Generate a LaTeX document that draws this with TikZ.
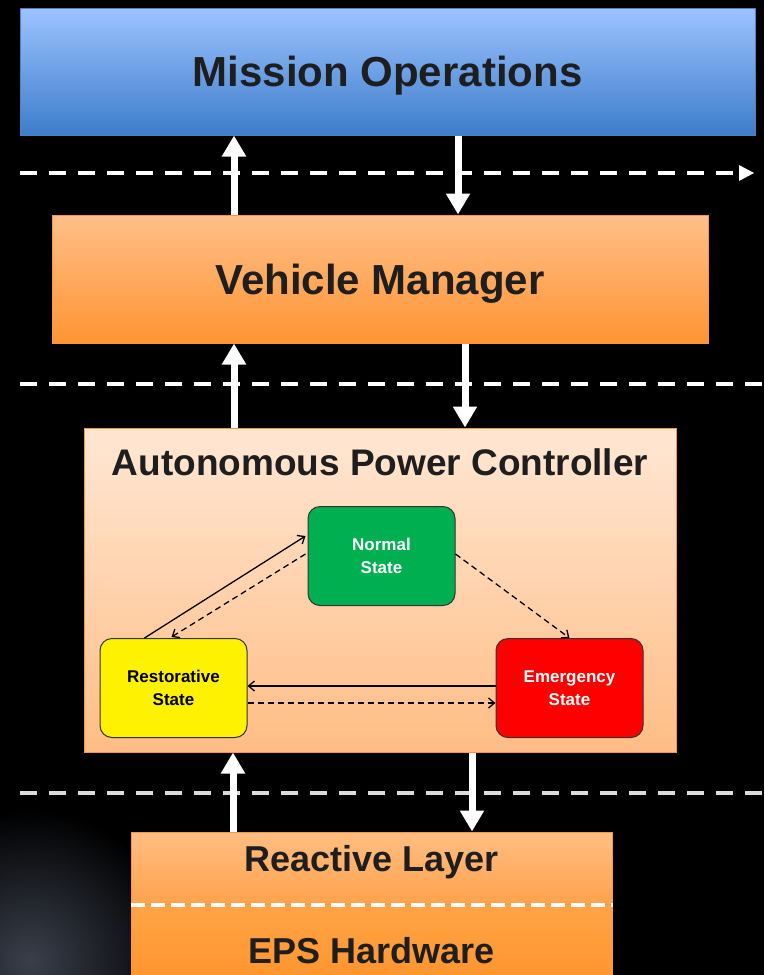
\documentclass[tikz,border=0pt]{standalone}
\usepackage{fontspec}
\setmainfont{Liberation Sans}
\usetikzlibrary{arrows.meta,calc}
\definecolor{txt}{HTML}{1E1E1E}
\definecolor{motop}{HTML}{9CC3FF}
\definecolor{mobot}{HTML}{3D7DCB}
\definecolor{moedge}{HTML}{4F81BD}
\definecolor{vmtop}{HTML}{FFBF88}
\definecolor{vmbot}{HTML}{FF9433}
\definecolor{oredge}{HTML}{F79646}
\definecolor{apctop}{HTML}{FFE7D4}
\definecolor{apcbot}{HTML}{FFBD85}
\definecolor{rltop}{HTML}{FFBE82}
\definecolor{rlbot}{HTML}{FFA24C}
\definecolor{epstop}{HTML}{FFA448}
\definecolor{epsbot}{HTML}{FF9228}
\definecolor{ngreen}{HTML}{00B050}
\definecolor{sepgray}{HTML}{DCDCDC}
\definecolor{earth}{HTML}{3A3F4B}
\tikzset{
  layer/.style={draw=#1, line width=1pt, inner sep=0pt, font=\bfseries\color{txt}},
  statebox/.style={draw=black!80, line width=1pt, rounded corners=12pt, minimum width=147pt, minimum height=99pt, font=\fontsize{17}{23}\selectfont\bfseries, align=center, inner sep=0pt},
  warrow/.style={draw=white, line width=7pt, -{Triangle[length=21pt,width=23pt]}},
  sepline/.style={draw=#1, line width=4pt, dash pattern=on 17pt off 12pt},
  tarrow/.style={draw=black, line width=1.3pt, -{Straight Barb[length=6pt,width=10pt]}},
  tdash/.style={tarrow, dash pattern=on 6pt off 4pt},
}
\begin{document}
\begin{tikzpicture}[x=1pt,y=-1pt]
\useasboundingbox (0,0) rectangle (764,975);
\clip (0,0) rectangle (764,975);
\fill[black] (0,0) rectangle (764,975);
% earth glow bottom-left
\shade[inner color=earth, outer color=black] (30,960) ellipse (150 and 150);
\fill[black] (131,800) rectangle (764,975);

% layers
\node[layer=moedge, top color=motop, bottom color=mobot, minimum width=735pt, minimum height=127pt, text depth=0pt,
      font=\fontsize{42}{48}\selectfont\bfseries\color{txt}] (mo) at (387.5,71.5) {Mission Operations};
\node[layer=oredge, top color=vmtop, bottom color=vmbot, minimum width=656pt, minimum height=128pt, text depth=0pt,
      font=\fontsize{42}{48}\selectfont\bfseries\color{txt}] (vm) at (380,279) {Vehicle Manager};
\node[layer=oredge, top color=apctop, bottom color=apcbot, minimum width=592pt, minimum height=324pt] (apc) at (380,590) {};
\node[font=\fontsize{37}{44}\selectfont\bfseries\color{txt}] (apct) at (380,462) {Autonomous Power Controller};

\node[layer=oredge, top color=rltop, bottom color=rlbot, minimum width=481pt, minimum height=72pt] (rl) at (371.5,868) {};
\node[layer=oredge, top color=epstop, bottom color=epsbot, minimum width=481pt, minimum height=90pt] (eps) at (371.5,949) {};
\node[font=\fontsize{36}{42}\selectfont\bfseries\color{txt}] (rlt) at (371.5,862) {Reactive Layer};
\node[font=\fontsize{36}{42}\selectfont\bfseries\color{txt}] (epst) at (371.5,951) {EPS Hardware};
\draw[white, line width=4pt, dash pattern=on 14pt off 6pt] (rl.south west) -- (rl.south east);

% states
\node[statebox, fill=ngreen, text=white] (ns) at (381.5,556) {Normal\\State};
\node[statebox, fill=yellow, text=black] (rs) at (173.5,688) {Restorative\\State};
\node[statebox, fill=red, text=white] (es) at (569.5,688) {Emergency\\State};

\draw[tarrow] ($(rs.north west)+(45,0)$) -- ($(ns.north west)+(-2,30)$);
\draw[tdash] ($(ns.north west)+(-2,48)$) -- ($(rs.north west)+(72,-1)$);
\draw[tdash] ($(ns.north east)+(0,48)$) -- ($(es.north west)+(74,0)$);
\draw[tarrow] ($(es.west)+(0,-2)$) -- ($(rs.east)+(0,-2)$);
\draw[tdash] ($(rs.east)+(0,15)$) -- ($(es.west)+(0,15)$);

% separators
\coordinate (s1l) at (20,173);
\coordinate (s1r) at (754,173);
\draw[sepline=white] (s1l) -- ($(s1r)+(-14,0)$);
\fill[white] (s1r) -- ++(-15,-8) -- ++(0,16) -- cycle;
\coordinate (s2l) at (20,384);
\coordinate (s2r) at (764,384);
\draw[sepline=white] (s2l) -- (s2r);
\coordinate (s3l) at (20,793);
\coordinate (s3r) at (764,793);
\draw[sepline=sepgray] (s3l) -- (s3r);

% interlayer arrows
\coordinate (a1) at (234,0);
\coordinate (a2) at (458,0);
\coordinate (a3) at (234,0);
\coordinate (a4) at (465,0);
\coordinate (a5) at (233,0);
\coordinate (a6) at (472,0);
\draw[warrow] (vm.north -| a1) -- (mo.south -| a1);
\draw[warrow] (mo.south -| a2) -- (vm.north -| a2);
\draw[warrow] (apc.north -| a3) -- (vm.south -| a3);
\draw[warrow] (vm.south -| a4) -- (apc.north -| a4);
\draw[warrow] (rl.north -| a5) -- (apc.south -| a5);
\draw[warrow] (apc.south -| a6) -- (rl.north -| a6);
\end{tikzpicture}
\end{document}
